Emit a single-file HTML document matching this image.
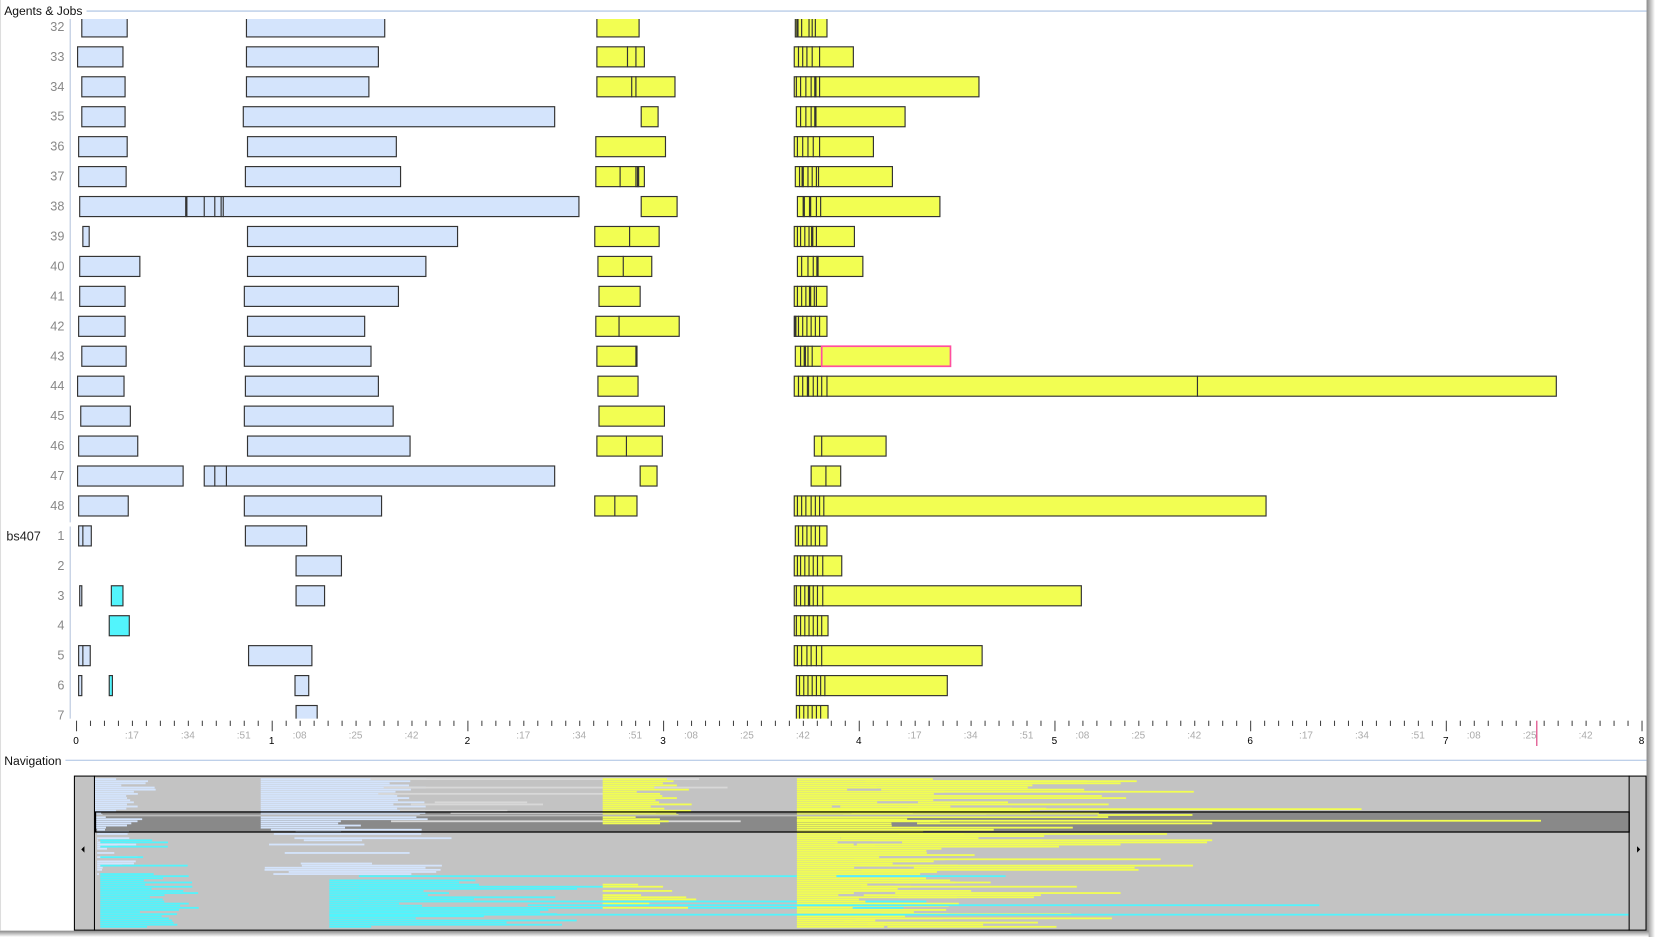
<!DOCTYPE html>
<html><head><meta charset="utf-8"><style>
html,body{margin:0;padding:0;background:#fff;}
svg{display:block;}
text{font-family:"Liberation Sans",sans-serif;}
</style></head><body>
<svg id="s" width="1655" height="937" viewBox="0 0 1568 888" preserveAspectRatio="none" xmlns="http://www.w3.org/2000/svg">
<defs>
<clipPath id="main"><rect x="66" y="18" width="1494" height="663"/></clipPath>
<clipPath id="nav"><rect x="90" y="736" width="1453" height="145"/></clipPath>
<linearGradient id="rs" x1="0" x2="1"><stop offset="0" stop-color="#888"/><stop offset="1" stop-color="#fff"/></linearGradient>
<linearGradient id="bs" x1="0" x2="0" y1="0" y2="1"><stop offset="0" stop-color="#888"/><stop offset="1" stop-color="#fff"/></linearGradient>
</defs>
<rect x="0" y="0" width="1568" height="888" fill="#fff"/>
<rect x="1560" y="0" width="8" height="888" fill="url(#rs)"/>
<rect x="0" y="882" width="1562" height="6" fill="url(#bs)"/>
<line x1="0.5" y1="0" x2="0.5" y2="882" stroke="#ddd"/>
<text x="4" y="14" font-size="11.5" fill="#111">Agents &amp; Jobs</text>
<line x1="82" y1="10.5" x2="1560" y2="10.5" stroke="#a9c0e2"/>
<text x="4" y="725" font-size="11.5" fill="#111">Navigation</text>
<line x1="62" y1="720.5" x2="1560" y2="720.5" stroke="#a9c0e2"/>
<text x="6" y="512" font-size="12" fill="#222">bs407</text>
<line x1="66.5" y1="18" x2="66.5" y2="495" stroke="#b4c4dc"/>
<line x1="66.5" y1="499" x2="66.5" y2="681" stroke="#b4c4dc"/>
<g id="labels" font-size="12" fill="#888" text-anchor="end"></g>
<g id="bars" clip-path="url(#main)"></g>
<g id="axis"></g>
<line x1="1456" y1="683" x2="1456" y2="707" stroke="#e0508a" stroke-width="1.2"/>
<rect x="70.5" y="735.5" width="1489" height="146" fill="#c3c3c3" stroke="#000"/>
<line x1="89.5" y1="735" x2="89.5" y2="882" stroke="#000"/>
<line x1="1543.5" y1="735" x2="1543.5" y2="882" stroke="#000"/>
<rect x="90" y="769" width="1453" height="19" fill="#898989"/>
<g id="nv" clip-path="url(#nav)"></g>
<rect x="90.5" y="769.5" width="1453" height="19" fill="none" stroke="#000" stroke-width="1.2"/>
<polygon points="80,802 77,805 80,808" fill="#000"/>
<polygon points="1551,802 1554,805 1551,808" fill="#000"/>
</svg>
<script>
var NS="http://www.w3.org/2000/svg";
function el(p,t,a,txt){var e=document.createElementNS(NS,t);for(var k in a)e.setAttribute(k,a[k]);if(txt!=null)e.textContent=txt;p.appendChild(e);return e;}
var B="#d4e4fc",Y="#f2fe52",C="#52f4fc";
var rows=[
["32",[77,120,B],[233,364,B],[565,605,Y],[753,783,Y,[-755,759,766,769,772]]],
["33",[73,116,B],[233,358,B],[565,610,Y,[594,602]],[752,808,Y,[756,760,764,769,776]]],
["34",[77,118,B],[233,349,B],[565,639,Y,[598,602]],[752,927,Y,[754,758,763,768,-772,776]]],
["35",[77,118,B],[230,525,B],[607,623,Y],[754,857,Y,[758,763,768,-772]]],
["36",[74,120,B],[234,375,B],[564,630,Y],[752,827,Y,[755,760,765,770,776]]],
["37",[74,119,B],[232,379,B],[564,610,Y,[587,602,-604]],[753,845,Y,[757,-760,765,769,773,775]]],
["38",[75,548,B,[-176,193,203,209,211]],[607,641,Y],[755,890,Y,[-761,-767,773,777]]],
["39",[78,84,B],[234,433,B],[563,624,Y,[596]],[752,809,Y,[755,758,762,766,-769,773]]],
["40",[75,132,B],[234,403,B],[566,617,Y,[590]],[755,817,Y,[759,765,770,-774]]],
["41",[75,118,B],[231,377,B],[567,606,Y],[752,783,Y,[755,759,763,-767,771,773]]],
["42",[74,118,B],[234,345,B],[564,643,Y,[586]],[752,783,Y,[-753,756,760,764,768,772,776]]],
["43",[77,119,B],[231,351,B],[565,603,Y,[602]],[753,778,Y,[758,-762,765,769]]],
["44",[73,117,B],[232,358,B],[566,604,Y],[752,1474,Y,[756,760,-765,770,774,778,783,1134]]],
["45",[76,123,B],[231,372,B],[567,629,Y]],
["46",[74,130,B],[234,388,B],[565,627,Y,[593]],[771,839,Y,[778]]],
["47",[73,173,B],[193,525,B,[203,214]],[606,622,Y],[768,796,Y,[782]]],
["48",[74,121,B],[231,361,B],[563,603,Y,[582]],[752,1199,Y,[755,759,763,768,772,776,780]]],
["1",[74,86,B,[78]],[232,290,B],[753,783,Y,[756,760,764,768,772,776]]],
["2",[280,323,B],[752,797,Y,[755,758,762,766,770,774,779]]],
["3",[75,77,B],[105,116,C],[280,307,B],[752,1024,Y,[754,758,762,-766,770,774,779]]],
["4",[103,122,C],[752,784,Y,[754,758,762,766,770,774,778]]],
["5",[74,85,B,[78]],[235,295,B],[752,930,Y,[755,759,764,768,773,778]]],
["6",[74,77,B],[103,106,C],[279,292,B],[754,897,Y,[757,761,765,769,773,777,781]]],
["7",[280,300,B],[754,784,Y,[757,761,765,769,773,777]]]
];
var g=document.getElementById("bars"),lg=document.getElementById("labels");
rows.forEach(function(r,i){
 var c=25+28.375*i,t=c-9.5;
 el(lg,"text",{x:61,y:c+4.3},r[0]);
 for(var j=1;j<r.length;j++){var b=r[j];
  el(g,"rect",{x:b[0]+.5,y:t+.5,width:b[1]-b[0],height:19,fill:b[2],stroke:"#333","stroke-width":1.1});
  (b[3]||[]).forEach(function(d){var w=d<0?2.2:1.1;d=Math.abs(d);el(g,"line",{x1:d+.5,y1:t,x2:d+.5,y2:t+20,stroke:"#333","stroke-width":w});});
 }
});
(function(){var t=25+28.375*11-9.5; el(g,"rect",{x:778.5,y:t+.5,width:122,height:19,fill:Y,stroke:"#ff4f9f","stroke-width":1.6});})();
var ax=document.getElementById("axis"),x0=72,hp=185.4,tp=hp/14;
for(var k=0;k<=112;k++){var x=x0+k*tp,h=(k%14==0);
 el(ax,"line",{x1:x+.5,y1:683,x2:x+.5,y2:h?693:688,stroke:"#444","stroke-width":1});
 if(h){el(ax,"text",{x:x,y:705,"font-size":9.5,fill:"#000","text-anchor":"middle"},String(k/14));}
}
for(var hh=0;hh<8;hh++){
 var labs=hh%2==0?[[4,":17"],[8,":34"],[12,":51"]]:[[2,":08"],[6,":25"],[10,":42"]];
 labs.forEach(function(l){var x=x0+hh*hp+l[0]*tp;
  el(ax,"text",{x:x,y:700,"font-size":9.5,fill:"#aaa","text-anchor":"middle"},l[1]);});
}
var nv=document.getElementById("nv"),seed=7;
function R(){seed=(seed*16807)%2147483647;return seed/2147483647;}
function L(x1,x2,y,c){el(nv,"rect",{x:x1,y:y,width:Math.max(1,x2-x1),height:1.7,fill:c});}
var NB="#d4e4fc",NC="#52f4fc",NY="#f2fe52",NG="#d8d8d8";
for(var r=0;r<71;r++){var y=737.5+r*2.0;
 if(r<24){L(90,90+R()*40+(r<8?20:5),y,NB);L(247,247+(r<20?120:60)+R()*40,y,NB);if(R()<.5)L(330+R()*100,480+R()*250,y,NG);}
 else if(r<46){if(R()<.6)L(92,92+R()*40,y,NB);if(R()<.7)L(250+R()*40,320+R()*120,y,NB);if(r>28&&R()<.5)L(95,130+R()*70,y,NC);}
 else {L(95,130+R()*60,y,NC);if(r>47)L(312,340+R()*(r>60?220:120),y,NC);if(R()<.3)L(340,500+R()*500,y,NC);}
 if(r<22||(r>48&&r<62&&R()<.6))L(571,600+R()*60,y,NY);
 L(755,785+R()*(r<30?300:140),y,NY);
 if(R()<.35)L(790+R()*80,900+R()*250,y,NY);
}
L(755,1460,777,NY);L(755,1290,766,NY);L(312,1543,866,NC);L(500,1250,857,NC);L(90,1040,772,"#bbb");
</script>
</body></html>
